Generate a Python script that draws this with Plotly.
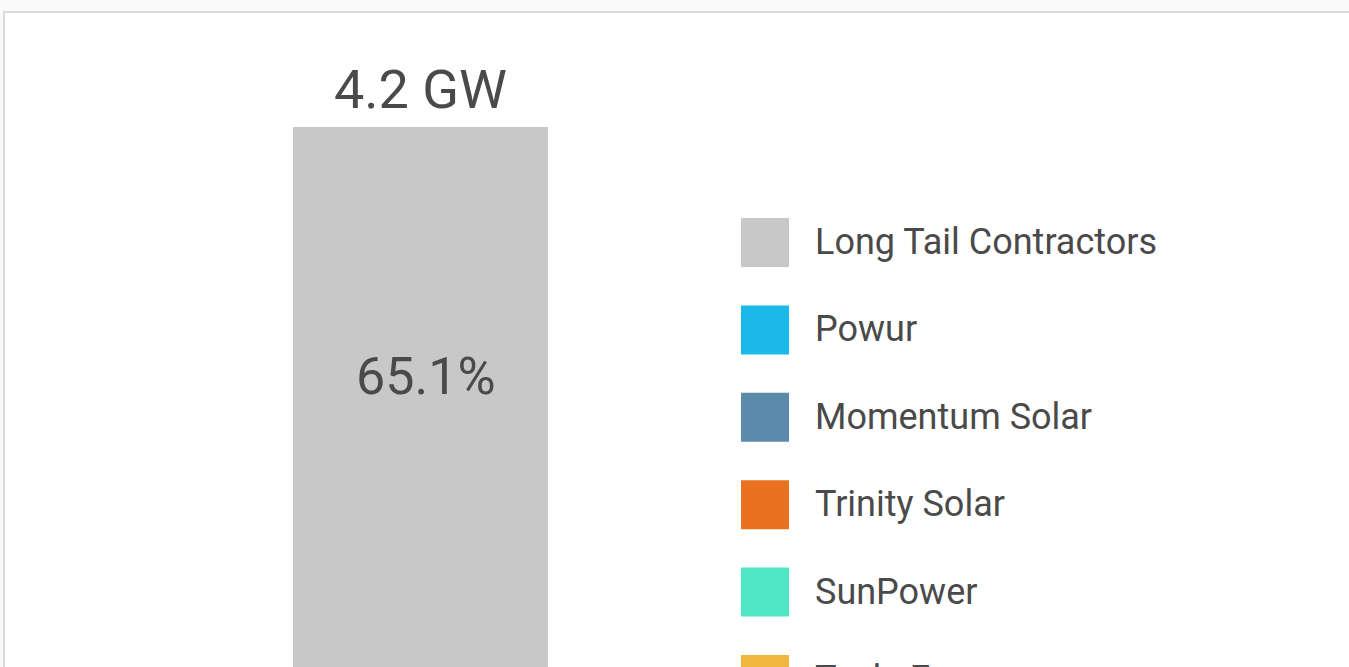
import plotly.graph_objects as go

# ---- data ----
category = ["Installs"]
total_label = "4.2 GW"
series_names = ["Tesla Energy", "SunPower", "Trinity Solar", "Momentum Solar", "Powur", "Long Tail Contractors"]
series_values = [14.3, 9.3, 4.8, 4.1, 2.4, 65.1]
series_colors = ["#f0b63e", "#4fe8c6", "#e8721e", "#5b8aab", "#1bb9ea", "#c8c8c8"]
legend_order = ["Long Tail Contractors", "Powur", "Momentum Solar", "Trinity Solar", "SunPower", "Tesla Energy"]

W, H = 1349, 667
TEXT = "#4a4a4a"
FONT = "Roboto"

fig = go.Figure()
for name, val, col in zip(series_names, series_values, series_colors):
    fig.add_trace(go.Bar(
        x=category, y=[val], name=name, marker=dict(color=col, line=dict(width=0)),
        showlegend=False, hoverinfo="skip",
    ))

total = sum(series_values)
lt_share = series_values[series_names.index("Long Tail Contractors")]

annotations = [
    dict(x=category[0], y=total, xref="x", yref="y", text=total_label, showarrow=False,
         yanchor="bottom", yshift=4, font=dict(family=FONT, size=54, color=TEXT)),
    dict(x=category[0], y=1 - 377 / H, xref="x", yref="paper", xshift=5,
         text=f"{lt_share:.1f}%", showarrow=False, yanchor="middle",
         font=dict(family=FONT, size=52, color=TEXT)),
]

shapes = [
    dict(type="rect", xref="paper", yref="paper", x0=4 / W, x1=1.02, y0=-0.1, y1=1 - 12 / H,
         line=dict(color="#dadada", width=2), fillcolor="white", layer="below"),
]

color_of = dict(zip(series_names, series_colors))
for i, name in enumerate(legend_order):
    top = 218 + 87.4 * i
    shapes.append(dict(type="rect", xref="paper", yref="paper",
                       x0=741 / W, x1=789 / W, y0=1 - (top + 49) / H, y1=1 - top / H,
                       line=dict(width=0), fillcolor=color_of[name], layer="above"))
    annotations.append(dict(x=813 / W, y=1 - (top + 24) / H, xref="paper", yref="paper",
                            text=name, showarrow=False, xanchor="left", yanchor="middle",
                            font=dict(family=FONT, size=36, color=TEXT)))

fig.update_layout(
    width=W, height=H,
    margin=dict(l=0, r=0, t=0, b=0),
    paper_bgcolor="#fafafa", plot_bgcolor="rgba(0,0,0,0)",
    barmode="stack", bargap=1 - 255 / 432,
    xaxis=dict(type="category", domain=[204.5 / W, 636.5 / W], visible=False, fixedrange=True),
    yaxis=dict(range=[40, 100 + 127 / 9], visible=False, fixedrange=True),
    annotations=annotations, shapes=shapes,
    showlegend=False,
)

fig.write_html("out.html", config={"displayModeBar": False},
               post_script="document.body.style.margin='0';document.body.style.overflow='hidden';")
